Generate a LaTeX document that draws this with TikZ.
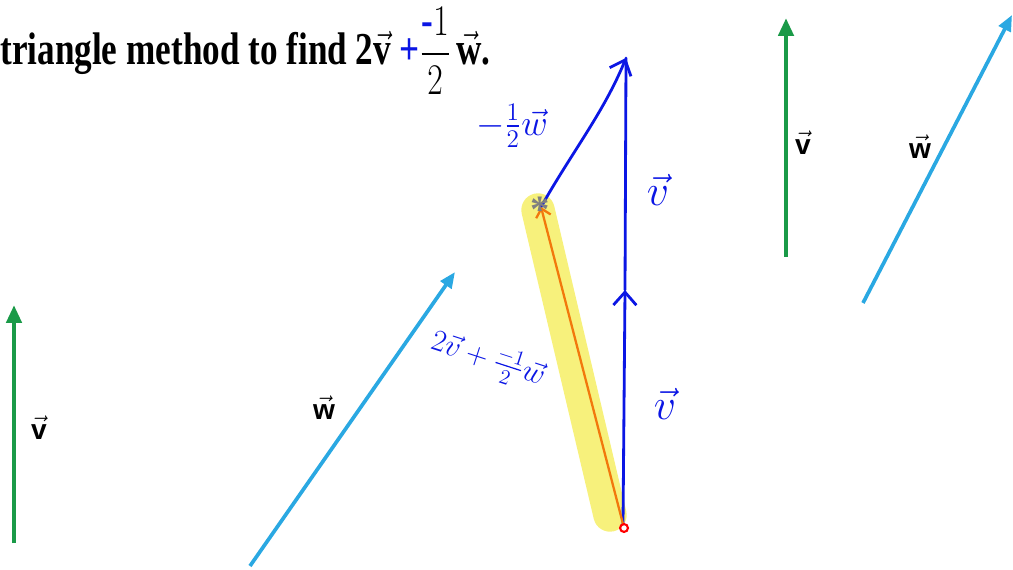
\documentclass[tikz,border=0pt]{standalone}
\usepackage{fontspec}
\setmainfont{Liberation Serif}
\setsansfont{Liberation Sans}
\usepackage{amsmath}
\usepackage{graphicx}
\usetikzlibrary{
  positioning,
  arrows.meta
}
\usepackage{xcolor}
\definecolor{vgreen}{HTML}{1A9A48}
\definecolor{wcyan}{HTML}{2AA8E2}
\definecolor{ink}{HTML}{0B16E4}
\definecolor{hilite}{HTML}{F7F17C}
\definecolor{resorange}{HTML}{F2780C}

\begin{document}
\begin{tikzpicture}[
  x=0.02cm, y=-0.02cm,
  vvec/.style={draw=vgreen, line width=2.6pt, -{Triangle[length=3.6mm, width=3mm]}},
  wvec/.style={draw=wcyan, line width=2.1pt, -{Triangle[length=3.2mm, width=2.6mm]}},
  lbl/.style={font=\sffamily\bfseries\fontsize{16}{16}\selectfont, inner sep=0pt},
  pen/.style={draw=ink, line width=1.6pt, line cap=round, line join=round},
  barb/.style={-{Straight Barb[length=2.6mm, width=4.6mm, line width=1.6pt]}},
  hand/.style={text=ink, inner sep=0pt, font=\fontsize{20}{20}\selectfont},
]
  \useasboundingbox (0,0) rectangle (1013,570);

  % Question
  \node[anchor=base west, inner sep=0pt] (title) at (0,65)
    {\scalebox{0.77}[1]{\fontsize{26}{26}\selectfont\bfseries triangle method to find
      2$\vec{\text{v}}$ {\color{ink}+}$\dfrac{\text{\color{ink}-}1}{2}\,\vec{\text{w}}$.}};

  % Given vectors, left
  \coordinate (v1s) at (14,543);
  \coordinate (v1e) at (14,305);
  \coordinate (w1s) at (250,566);
  \coordinate (w1e) at (455,272);
  \draw[vvec] (v1s) -- (v1e);
  \draw[wvec] (w1s) -- (w1e);
  \node[lbl] (v1) at (39,428) {$\vec{\text{v}}$};
  \node[lbl] (w1) at (324,408) {$\vec{\text{w}}$};

  % Given vectors, right
  \coordinate (v2s) at (786,257);
  \coordinate (v2e) at (786,18);
  \coordinate (w2s) at (863,303);
  \coordinate (w2e) at (1012,15);
  \draw[vvec] (v2s) -- (v2e);
  \draw[wvec] (w2s) -- (w2e);
  \node[lbl] (v2) at (803,143) {$\vec{\text{v}}$};
  \node[lbl] (w2) at (920,147) {$\vec{\text{w}}$};

  % Triangle: v, v, then -1/2 w
  \coordinate (o) at (623,524);
  \coordinate (mid) at (625,290);
  \coordinate (top) at (626,58);
  \coordinate (res) at (541,207);

  % highlight under the resultant
  \coordinate (hla) at (538,210);
  \coordinate (hlb) at (610,515);
  \draw[hilite, line width=19pt, line cap=round] (hla) -- (hlb);

  \draw[pen, barb] (o) -- (mid);
  \draw[pen] (mid) -- (top);
  \draw[pen, barb] (res) .. controls (572,152) and (604,112) .. (top);

  % resultant
  \draw[resorange, line width=1.3pt,
    -{Straight Barb[length=1.6mm, width=3mm, line width=1.3pt]}] (o) -- (res);
  \node[text=gray, font=\bfseries\fontsize{22}{22}\selectfont, inner sep=0pt] (star) at (540,210) {*};
  \node[draw=red, circle, line width=1.2pt, minimum size=4.5pt, inner sep=0pt] (dot) at (624,528) {};

  % handwritten labels
  \node[hand] (lw) at (512,126) {$-\frac{1}{2}\vec{w}$};
  \node[hand, font=\fontsize{24}{24}\selectfont] (lv1) at (658,190) {$\vec{v}$};
  \node[hand, font=\fontsize{24}{24}\selectfont] (lv2) at (665,404) {$\vec{v}$};
  \node[hand, rotate=-18, font=\fontsize{18}{18}\selectfont] (lsum) at (488,360) {$2\vec{v}+\frac{-1}{2}\vec{w}$};
\end{tikzpicture}
\end{document}
